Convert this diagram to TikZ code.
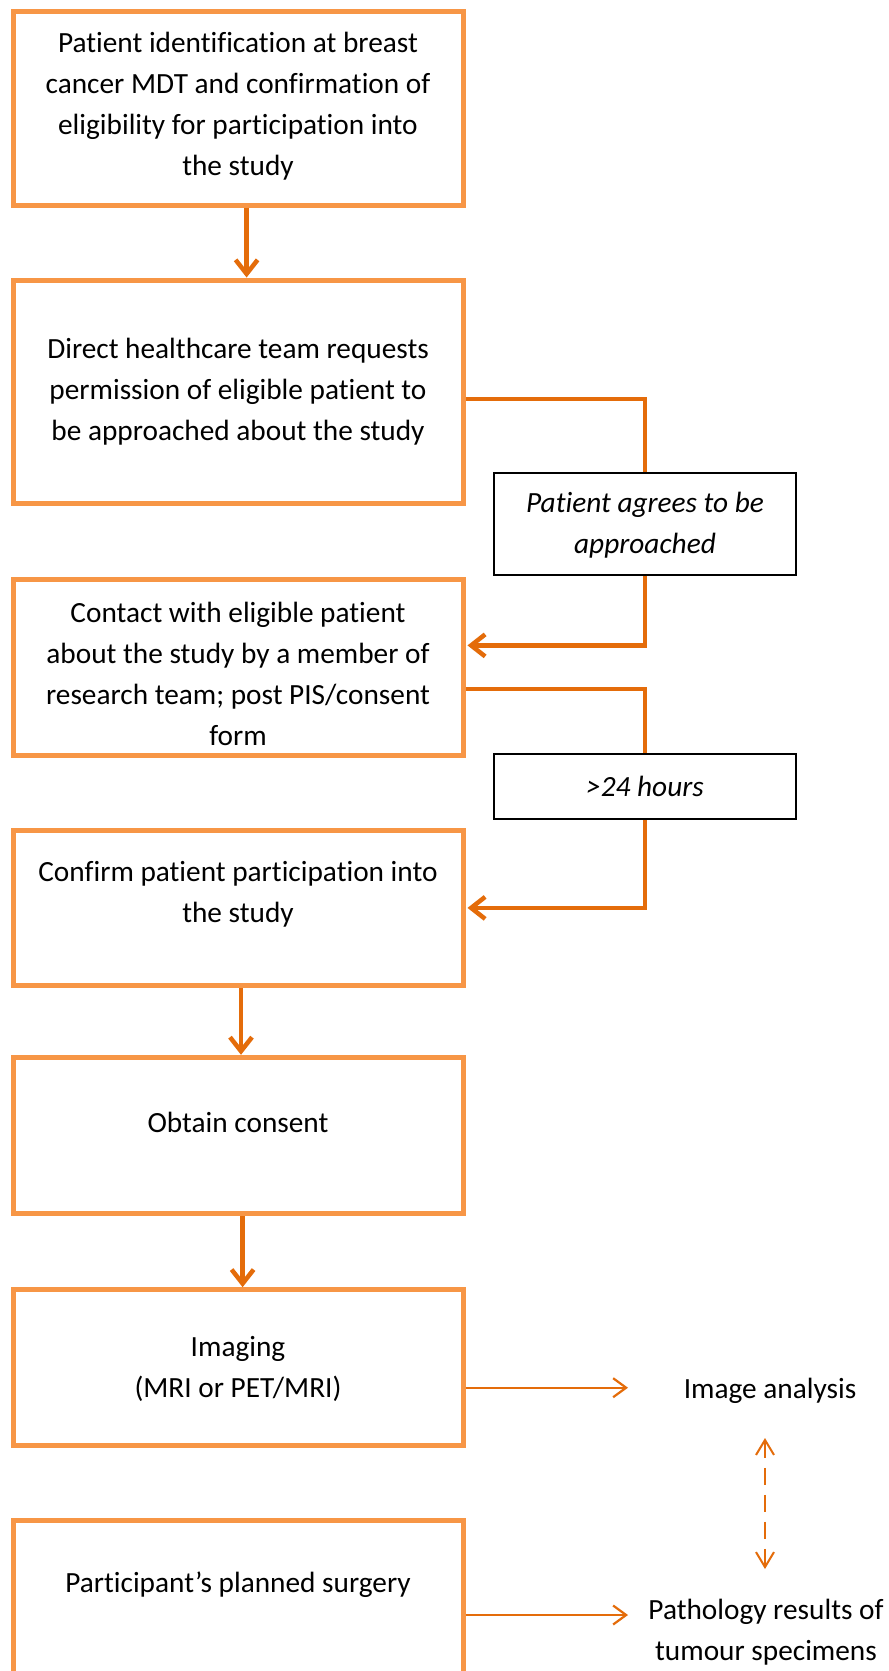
\documentclass[tikz,border=0pt]{standalone}
\usepackage{fontspec}
\setmainfont{Carlito}[Ligatures={NoCommon}]
\usetikzlibrary{arrows.meta}
\definecolor{boxor}{HTML}{F79646}
\definecolor{lineor}{HTML}{E46C0A}
\begin{document}
\begin{tikzpicture}[x=1pt,y=-1pt,
  box/.style={draw=boxor, line width=5pt, rectangle, inner sep=0pt, minimum width=449.5pt},
  notebox/.style={draw=black, line width=2pt, rectangle, inner sep=0pt, minimum width=302pt},
  txt/.style={align=center, font=\fontsize{29.3}{41}\selectfont, inner sep=0pt},
  itxt/.style={align=center, font=\fontsize{29.3}{41}\selectfont\itshape, inner sep=0pt},
  bigarrow/.style={draw=lineor, line width=4.5pt, -{Straight Barb[length=14pt,width=22pt]}},
  bigline/.style={draw=lineor, line width=4pt},
  thinarrow/.style={draw=lineor, line width=2.2pt, -{Straight Barb[length=13pt,width=19pt]}},
  dasharrow/.style={draw=lineor, line width=2pt, dash pattern=on 17pt off 10pt,
    {Straight Barb[length=15pt,width=18pt]}-{Straight Barb[length=15pt,width=18pt]}}
]
\useasboundingbox (0,0) rectangle (889,1671);
\clip (0,0) rectangle (889,1671);
\fill[white] (0,0) rectangle (889,1671);

% main boxes
\node[box, minimum height=193.7pt] (b1) at (238.25,108.15) {};
\node[box, minimum height=223.5pt] (b2) at (238.25,391.75) {};
\node[box, minimum height=175.7pt] (b3) at (238.25,667.55) {};
\node[box, minimum height=155.5pt] (b4) at (238.25,907.75) {};
\node[box, minimum height=156.5pt] (b5) at (238.25,1135.55) {};
\node[box, minimum height=155.9pt] (b6) at (238.25,1367.65) {};
\node[box, minimum height=160pt] (b7) at (238.25,1600) {};

% texts in boxes
\node[txt] (t1) at (238,106) {Patient identification at breast\\cancer MDT and confirmation of\\eligibility for participation into\\the study};
\node[txt] (t2) at (238,392) {Direct healthcare team requests\\permission of eligible patient to\\be approached about the study};
\node[txt] (t3) at (238,674) {Contact with eligible patient\\about the study by a member of\\research team; post PIS/consent\\form};
\node[txt] (t4) at (238,894) {Confirm patient participation into\\the study};
\node[txt] (t5) at (238,1122) {Obtain consent};
\node[txt] (t6) at (238,1369) {Imaging\\(MRI or PET/MRI)};
\node[txt] (t7) at (238,1585) {Participant’s planned surgery};

% side note boxes
\node[notebox, minimum height=101.4pt] (s1) at (645,523.9) {};
\node[itxt] (st1) at (645,525) {Patient agrees to be\\approached};
\node[notebox, minimum height=65.7pt] (s2) at (645,786.45) {};
\node[itxt] (st2) at (645,786) {>24 hours};

% outcome texts
\node[txt] (ia) at (770,1391) {Image analysis};
\node[txt] (pr) at (766,1632) {Pathology results of\\tumour specimens};

% helper coordinates
\coordinate (c1) at (0,399.3);
\coordinate (c2) at (0,645.4);
\coordinate (c3) at (0,689);
\coordinate (c4) at (0,907.9);
\coordinate (a1) at (246.6,0);
\coordinate (a2) at (241,0);
\coordinate (a3) at (242.6,0);
\coordinate (r1) at (0,1387.7);
\coordinate (r2) at (0,1615);
\coordinate (e1) at (628,1387.7);
\coordinate (e2) at (628,1615);
\coordinate (d1) at (765,1438);
\coordinate (d2) at (765,1569);

% vertical arrows
\draw[bigarrow] (b1.south -| a1) -- (b2.north -| a1);
\draw[bigarrow] (b4.south -| a2) -- (b5.north -| a2);
\draw[bigarrow] (b5.south -| a3) -- (b6.north -| a3);

% side connectors
\draw[bigline] (b2.east |- c1) -| (s1.north);
\draw[bigarrow] (s1.south) |- ([xshift=2pt]b3.east |- c2);
\draw[bigline] (b3.east |- c3) -| (s2.north);
\draw[bigarrow] (s2.south) |- ([xshift=2pt]b4.east |- c4);

% outcome arrows
\draw[thinarrow] (b6.east |- r1) -- (e1);
\draw[thinarrow] (b7.east |- r2) -- (e2);
\draw[dasharrow] (d1) -- (d2);
\end{tikzpicture}
\end{document}
